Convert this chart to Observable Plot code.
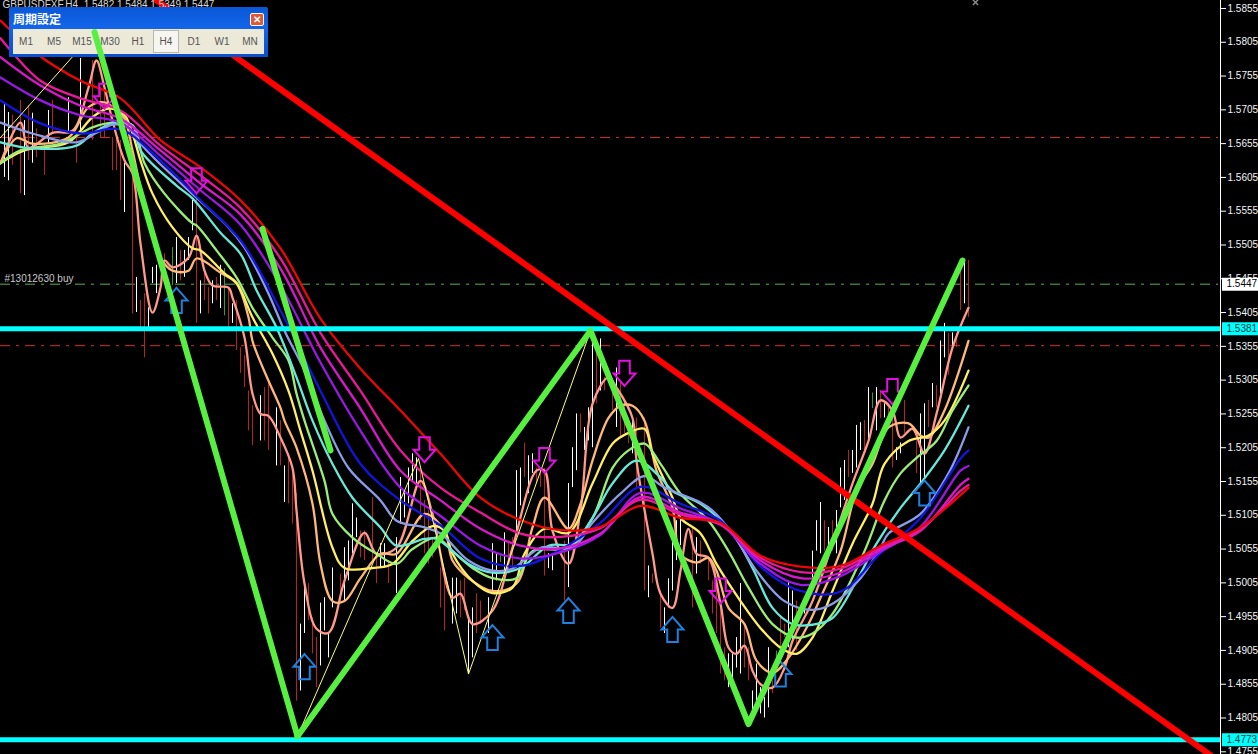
<!DOCTYPE html>
<html>
<head>
<meta charset="utf-8">
<script src="https://cdn.jsdelivr.net/npm/d3@7"></script>
<script src="https://cdn.jsdelivr.net/npm/@observablehq/plot@0.6"></script>
<style>
html,body{margin:0;padding:0;background:#000;width:1258px;height:754px;overflow:hidden}
#stage{position:relative;width:1258px;height:754px}
#stage>svg,#over svg{position:absolute;left:0;top:0;background:transparent}
#over{position:absolute;left:0;top:0;width:1258px;height:754px;z-index:2;pointer-events:none}
#panel{position:absolute;left:9px;top:7px;width:259px;height:50px;z-index:1;box-sizing:border-box;
 background:linear-gradient(#0a58d6,#1464ea 40%,#0a4fd0);border-radius:2px 2px 0 0;}
#ptitle{position:absolute;left:4px;top:3px;color:#fff;font:bold 12px "Noto Sans CJK JP",sans-serif;line-height:18px}
#pclose{position:absolute;left:241px;top:6px;width:12px;height:11px;background:#e0583a;border:1px solid #fff;border-radius:2px;color:#fff;font:bold 10px/11px "Liberation Sans",sans-serif;text-align:center}
#pbody{position:absolute;left:4px;top:22px;width:251px;height:25px;background:#ece9d8}
#pbody span{position:absolute;top:0;width:28px;margin-left:-14px;text-align:center;font:10px/25px "Liberation Sans",sans-serif;color:#555}
#pbody span.on{background:#f6f5ef;box-sizing:border-box;border:1px solid #b8b8b0;height:23px;top:1px;line-height:22px;width:26px;margin-left:-13px}
</style>
</head>
<body>
<div id="stage"></div>
<script>
// Prices are in points (1 point = 0.0001); x is the bar number on the H4 chart.
const priceTicks = d3.range(0, 23).map(i => 15855 - i * 50);
const levelCyan = [15381, 14773];
const levelRedDash = [15664, 15356];
const levelGreenDash = [15447];
const tickerLabel = "GBPUSDFXF,H4  1.5482 1.5484 1.5349 1.5447";
const orderLabel = "#13012630 buy";
const timeframes = ["M1","M5","M15","M30","H1","H4","D1","W1","MN"];

// Bars: white (up), red (down), green (doji-like)
const whiteX = [1,2,6,8,12,17,20,31,34,37,38,39,44,46,47,48,50,53,55,58,65,69,71,75,76,80,81,82,83,86,87,88,89,95,96,99,100,101,102,103,104,113,114,117,118,122,123,124,126,129,130,132,133,137,138,142,143,144,146,147,148,150,154,158,162,166,167,168,169,170,174,182,183,184,185,188,189,190,191,192,197,198,201,203,204,205,207,209,210,211,213,214,215,217,219,221,224,225,230,231,233,235,236,238,241];
const whiteHigh = [15714,15701,15689,15700,15704,15723,15781,15626,15457,15412,15472,15475,15516,15497,15516,15571,15452,15452,15475,15418,15282,15264,15178,14944,15004,14975,14983,14930,15027,15057,15067,15122,15101,15063,15063,15072,15161,15138,15175,15196,15190,15012,15012,14953,14968,14983,15063,15048,15079,15171,15175,15193,15196,15048,15048,15152,15205,15255,15235,15264,15378,15366,15323,15249,15030,14968,15011,15067,15097,15101,15072,14900,14900,14924,15004,14845,14885,14850,14835,14909,15008,14993,14983,15052,15097,15124,15087,15112,15175,15186,15201,15238,15242,15294,15294,15270,15205,15212,15255,15270,15300,15363,15389,15375,15482];
const whiteLow = [15605,15600,15578,15626,15655,15670,15670,15553,15405,15383,15448,15433,15448,15457,15482,15526,15403,15418,15411,15389,15215,15178,15124,14845,14930,14882,14934,14894,14968,14978,15008,15048,15072,15027,15027,14989,15092,15101,15122,15156,15146,14944,14959,14870,14894,14930,14989,15008,15018,15078,15119,15137,15167,15026,15023,14998,15146,15171,15201,15215,15205,15289,15235,15196,14983,14930,14968,14993,15038,15060,15018,14850,14864,14879,14870,14811,14820,14811,14805,14820,14909,14919,14959,15012,15052,15048,15057,15048,15116,15127,15167,15175,15201,15211,15230,15249,15186,15196,15152,15161,15264,15285,15338,15356,15418];

const redX = [3,5,7,9,11,13,19,23,25,26,28,29,30,33,35,36,41,45,49,51,52,54,57,59,60,61,62,63,66,67,70,72,73,74,77,78,79,85,90,91,93,94,97,105,106,107,108,110,111,115,116,119,120,127,128,131,134,135,136,141,145,149,151,153,155,156,157,159,161,163,165,173,175,177,178,179,180,181,186,187,193,195,196,199,206,208,212,216,220,222,223,226,229,232,234,237,239,240,242];
const redHigh = [15697,15719,15711,15677,15655,15719,15670,15778,15738,15734,15664,15667,15660,15605,15423,15433,15492,15497,15581,15467,15442,15457,15442,15423,15353,15341,15289,15267,15294,15304,15245,15190,15171,15137,15004,14953,14924,15018,15082,15082,15131,15048,15038,15175,15127,15112,15072,15027,15023,15008,15012,14989,14978,15067,15072,15212,15175,15171,15174,15067,15255,15353,15309,15304,15304,15275,15249,15249,15249,15018,14993,15087,15067,15038,15008,15004,14978,14909,14944,14909,14860,14953,14944,14978,15097,15097,15201,15245,15289,15264,15264,15275,15215,15275,15297,15374,15374,15482,15482];
const redLow = [15623,15581,15630,15634,15608,15670,15626,15660,15664,15664,15615,15615,15571,15403,15383,15338,15448,15452,15389,15423,15403,15423,15383,15349,15315,15294,15230,15208,15215,15201,15178,15122,15092,14830,14949,14900,14850,14978,15042,15038,15038,15004,15004,15097,15048,15033,15042,14968,14934,14953,14964,14930,14944,15018,15023,15161,15152,15146,15015,14978,15227,15270,15289,15260,15220,15226,15211,15146,14993,15004,14938,14968,15033,15008,14959,14930,14870,14860,14879,14860,14841,14885,14924,14904,15052,15052,15161,15201,15248,15249,15175,15226,15167,15235,15264,15312,15353,15408,15398];

const greenX = [43,56,125,194,218];
const greenHigh = [15501,15470,15045,14904,15286];
const greenLow = [15445,15400,15035,14885,15263];

// Moving averages, slow ribbon members on a shared bar grid
const gridX = [0,10,20,30,40,50,60,70,80,90,100,110,120,130,140,150,160,170,180,190,200,210,220,230,240,242];
const maRed = [15837,15784,15748,15722,15660,15620,15571,15500,15396,15322,15260,15196,15131,15098,15083,15088,15119,15101,15094,15045,15029,15030,15060,15087,15135,15146];
const maPink = [15811,15748,15722,15704,15652,15608,15560,15485,15375,15289,15201,15146,15109,15078,15073,15086,15128,15106,15091,15042,15021,15026,15057,15084,15141,15150];
const maMagenta = [15783,15741,15711,15692,15645,15596,15550,15470,15353,15263,15171,15127,15085,15060,15056,15078,15132,15109,15092,15038,15012,15020,15054,15082,15150,15159];
const maPurple = [15753,15719,15697,15686,15637,15586,15535,15445,15331,15230,15146,15104,15060,15041,15050,15076,15138,15115,15092,15033,15002,15015,15051,15088,15171,15178];
const maBlue = [15719,15685,15670,15676,15630,15571,15512,15408,15289,15181,15127,15090,15041,15030,15054,15094,15147,15122,15097,15029,14993,14992,15049,15101,15189,15201];

const periX = [0,8,19,24,28,32,35,39,49,57,61,67,71,76,81,87,95,99,106,110,117,123,128,135,143,148,155,161,166,175,178,183,189,196,203,208,215,220,222,230,237,242];
const maPeri = [15686,15670,15657,15671,15683,15679,15655,15630,15575,15531,15501,15433,15378,15319,15245,15175,15127,15097,15087,15078,15038,15023,15026,15057,15057,15094,15137,15163,15146,15124,15112,15078,15023,14978,14965,14974,15012,15057,15078,15107,15167,15235];

const aquaX = [0,8,19,23,28,33,35,44,48,55,60,64,69,74,78,83,88,95,99,106,109,117,123,130,137,143,148,153,159,165,168,175,183,188,193,198,203,208,214,219,225,230,236,242];
const maAqua = [15657,15648,15652,15670,15685,15682,15645,15593,15574,15523,15492,15438,15383,15309,15245,15181,15131,15087,15060,15070,15070,15033,15020,15027,15060,15063,15101,15152,15186,15161,15141,15122,15078,15027,14968,14944,14943,14953,15008,15063,15116,15152,15201,15267];

const limeX = [0,5,15,23,28,33,36,41,48,49,54,59,63,68,72,74,76,81,83,88,94,99,103,109,113,118,123,129,133,142,148,153,157,161,165,170,177,182,187,193,199,203,208,216,221,225,229,234,238,242];
const maLime = [15626,15645,15655,15679,15686,15682,15626,15581,15537,15534,15497,15457,15412,15368,15334,15285,15245,15156,15107,15072,15048,15033,15055,15072,15052,15027,15012,15012,15052,15057,15101,15175,15201,15211,15181,15137,15097,15052,14998,14944,14924,14930,14959,15052,15127,15167,15190,15215,15260,15297];

const yellowX = [0,6,17,23,27,31,33,35,38,43,48,50,56,59,63,68,72,75,78,83,86,93,98,103,108,111,113,118,123,128,131,136,142,148,153,157,161,163,168,170,175,179,185,190,195,199,203,208,213,218,221,227,232,236,242];
const maYellow = [15626,15645,15657,15694,15707,15697,15670,15630,15581,15531,15500,15497,15463,15449,15398,15344,15289,15230,15171,15057,15027,15027,15033,15067,15089,15082,15048,15008,14990,14998,15048,15085,15079,15152,15211,15227,15233,15196,15131,15101,15078,15033,14978,14938,14909,14900,14924,14993,15063,15122,15181,15215,15223,15245,15319];

const orangeX = [0,4,8,17,22,26,29,31,33,36,40,43,47,49,55,59,62,63,67,70,71,74,78,80,83,86,90,95,99,106,111,113,117,123,129,133,136,142,145,148,152,155,158,161,164,168,170,174,177,179,182,186,189,193,197,202,205,210,214,218,222,227,230,232,236,242];
const maOrange = [15626,15663,15655,15664,15709,15716,15704,15692,15645,15563,15486,15467,15467,15485,15464,15448,15398,15363,15304,15264,15245,15205,15122,15033,14978,14978,15012,15048,15048,15107,15082,15038,15012,14993,15004,15087,15131,15085,15122,15186,15249,15267,15267,15245,15171,15116,15048,15035,15042,15023,14968,14944,14890,14872,14894,14944,14983,15052,15141,15181,15235,15241,15223,15220,15260,15363];

const salmonX = [0,5,7,13,18,22,24,26,28,31,33,35,38,40,41,43,47,49,51,53,57,58,61,63,65,67,70,73,74,76,79,82,86,91,94,99,105,108,113,115,118,123,128,134,136,138,142,145,148,152,154,158,159,163,165,168,170,172,174,177,180,182,184,186,188,190,193,196,198,203,208,213,217,220,223,225,228,231,234,238,242];
const maSalmon = [15626,15686,15649,15671,15674,15738,15778,15738,15689,15630,15611,15507,15405,15442,15482,15472,15486,15519,15467,15445,15442,15427,15368,15285,15255,15252,15220,15175,15112,15004,14937,14931,15008,15079,15048,15057,15156,15107,14983,14989,14944,14964,15057,15171,15171,15082,15033,15112,15270,15309,15294,15249,15186,15048,14989,14968,15023,15085,15048,15042,14974,14909,14900,14912,14875,14855,14850,14879,14919,14978,15063,15152,15215,15275,15260,15220,15233,15196,15255,15353,15412];

// Drawn objects
const zigzagX = [74.25,147.5,187,240.5];
const zigzagY = [14778,15378,14796,15482];
const firstLegX = [23.5,74.25];
const firstLegY = [15820,14778];
const stubX = [65.5,82.5];
const stubY = [15529,15201];
const trendX = [39,302.5];
const trendY = [15867,14750];
const thinX = [0,23.5,74.25,104.5,117,147.5,187,240.5];
const thinY = [15664,15820,14778,15189,14870,15378,14796,15482];

// Signal arrows
const upX = [44,76,123,142,168,195,231];
const upY = [15423,14881,14924,14964,14936,14870,15138];
const downX = [26,49,106,136,156,180,223];
const downY = [15725,15600,15202,15186,15315,14993,15288];

// Small grey order marker on the top edge
const topMarkX = [243.75];
const topMarkY = [15864];

const pts = (xs, ys) => xs.map((x, i) => ({x, y: ys[i]}));
const bars = (xs, hi, lo) => xs.map((x, i) => ({x, hi: hi[i], lo: lo[i]}));
const fmt = p => (p / 10000).toFixed(4);

const arrowUp = {draw(c, s) {
  const u = Math.sqrt(s);
  const w = u * 0.5, h = u * 0.57, sh = u * 0.24;
  c.moveTo(0, -h); c.lineTo(w, 0); c.lineTo(sh, 0); c.lineTo(sh, h); c.lineTo(-sh, h); c.lineTo(-sh, 0); c.lineTo(-w, 0); c.closePath();
}};
const arrowDown = {draw(c, s) {
  const u = Math.sqrt(s);
  const w = u * 0.5, h = u * 0.57, sh = u * 0.24;
  c.moveTo(0, h); c.lineTo(w, 0); c.lineTo(sh, 0); c.lineTo(sh, -h); c.lineTo(-sh, -h); c.lineTo(-sh, 0); c.lineTo(-w, 0); c.closePath();
}};

const axisFont = '10px "Liberation Sans", Arial, sans-serif';
const scales = {
  width: 1258, height: 754,
  marginTop: 0, marginBottom: 0, marginLeft: 0, marginRight: 38,
  x: {domain: [0, 305], axis: null},
  y: {domain: [14751, 15866.8]}
};
const ribbon = [
  [salmonX, maSalmon, "#ff9a8c"],
  [orangeX, maOrange, "#ffb87a"],
  [yellowX, maYellow, "#ffee66"],
  [limeX, maLime, "#9cee78"],
  [aquaX, maAqua, "#68e8d8"],
  [periX, maPeri, "#8a9ce8"],
  [gridX, maBlue, "#1414e0"],
  [gridX, maPurple, "#9a18e6"],
  [gridX, maMagenta, "#d818cc"],
  [gridX, maPink, "#e81898"],
  [gridX, maRed, "#ec0606"]
];
const barMark = (xs, hi, lo, color) => Plot.ruleX(bars(xs, hi, lo), {x: "x", y1: "hi", y2: "lo", stroke: color, strokeWidth: 1});
const levelDash = (vals, color) => Plot.ruleY(vals, {x1: 0, x2: 304.5, stroke: color, strokeWidth: 1, strokeDasharray: "10,6,3,6"});

const chart = Plot.plot({
  ...scales,
  style: {background: "#000", color: "#fff", font: axisFont},
  marks: [
    levelDash(levelRedDash, "#dc2828"),
    levelDash(levelGreenDash, "#58b058"),
    barMark(whiteX, whiteHigh, whiteLow, "#ffffff"),
    barMark(redX, redHigh, redLow, "#b82222"),
    barMark(greenX, greenHigh, greenLow, "#2fa02f"),
    ...ribbon.map(([xs, ys, c]) => Plot.line(pts(xs, ys), {x: "x", y: "y", stroke: c, strokeWidth: 2.3, curve: "catmull-rom"})),
    Plot.line(pts(thinX, thinY), {x: "x", y: "y", stroke: "#ffff70", strokeWidth: 1}),
    Plot.ruleY(levelCyan, {x1: 0, x2: 305, stroke: "#00ffff", strokeWidth: 5}),
    Plot.dot(pts(upX, upY), {x: "x", y: "y", symbol: arrowUp, r: 12.4, stroke: "#2080e0", fill: "none", strokeWidth: 2}),
    Plot.dot(pts(downX, downY), {x: "x", y: "y", symbol: arrowDown, r: 12.4, stroke: "#e010e0", fill: "none", strokeWidth: 2}),
    Plot.dot(pts(topMarkX, topMarkY), {x: "x", y: "y", symbol: "times", r: 2.5, stroke: "#8a8a8a", strokeWidth: 1.5}),
    Plot.line(pts(trendX, trendY), {x: "x", y: "y", stroke: "#ff0000", strokeWidth: 6}),
    Plot.line(pts(zigzagX, zigzagY), {x: "x", y: "y", stroke: "#58f040", strokeWidth: 6}),
    Plot.line(pts(stubX, stubY), {x: "x", y: "y", stroke: "#58f040", strokeWidth: 6}),
    Plot.axisY({ticks: priceTicks, anchor: "right", tickSize: 5, tickPadding: 2, tickFormat: fmt, label: null, stroke: "#fff", fill: "#f4f4f4", fontSize: 10}),
    Plot.ruleX([305], {stroke: "#ffffff", strokeWidth: 1}),
    Plot.ruleY([15447], {x1: 305.5, x2: 314.5, stroke: "#ffffff", strokeWidth: 13}),
    Plot.ruleY(levelCyan, {x1: 305.5, x2: 314.5, stroke: "#00ffff", strokeWidth: 13}),
    Plot.text([15447], {x: 306.5, y: d => d, text: fmt, textAnchor: "start", fill: "#000", fontSize: 10}),
    Plot.text(levelCyan, {x: 306.5, y: d => d, text: fmt, textAnchor: "start", fill: "#064040", fontSize: 10}),
    Plot.text([tickerLabel], {frameAnchor: "top-left", dx: 2, dy: 0, fill: "#d8d8d8", fontSize: 10}),
    Plot.text([orderLabel], {x: 1, y: 15447, dy: -5, textAnchor: "start", fill: "#c8c8c8", fontSize: 10})
  ]
});

const over = Plot.plot({
  ...scales,
  style: {background: "transparent"},
  y: {domain: scales.y.domain, axis: null},
  marks: [Plot.line(pts(firstLegX, firstLegY), {x: "x", y: "y", stroke: "#58f040", strokeWidth: 6})]
});

const stage = document.getElementById("stage");
stage.append(chart);

const panel = document.createElement("div");
panel.id = "panel";
panel.innerHTML = '<div id="ptitle">周期設定</div><div id="pclose">✕</div><div id="pbody"></div>';
stage.append(panel);
const pbody = panel.querySelector("#pbody");
const slotWidth = 28;
timeframes.forEach((t, i) => {
  const s = document.createElement("span");
  s.textContent = t;
  s.style.left = (13 + i * slotWidth) + "px";
  if (t === "H4") s.className = "on";
  pbody.append(s);
});
const overDiv = document.createElement("div");
overDiv.id = "over";
overDiv.append(over);
stage.append(overDiv);
</script>
</body>
</html>
